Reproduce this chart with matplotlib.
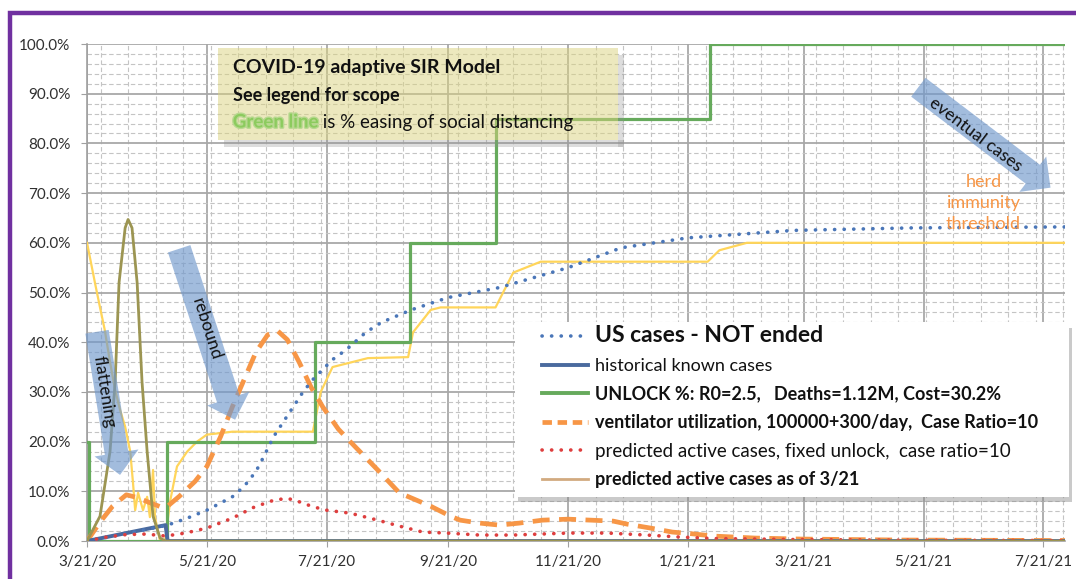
import datetime as dt
import matplotlib
matplotlib.use('Agg')
import matplotlib.pyplot as plt
import matplotlib.dates as mdates
import matplotlib.patches as mpatches
import matplotlib.patheffects as pe
from matplotlib.lines import Line2D
from matplotlib.ticker import FixedLocator, FuncFormatter, MultipleLocator
import numpy as np

plt.rcParams['font.family'] = ['Lato', 'DejaVu Sans']

START = dt.date(2020, 3, 21)

# --- series (days since 3/21/20, percent) ---
us_days = [0, 20, 41, 51, 61, 74, 80, 86, 90, 95, 100, 105, 110, 115, 120, 125, 132,
           142, 150, 165, 184, 210, 245, 272, 306, 360, 420, 498]
us_pct = [0, 1.5, 3.2, 4.6, 6.2, 8.9, 11, 14, 17, 21, 24, 27, 30, 32.5, 34.5, 36.5, 38.5,
          42, 44, 46.5, 49, 51, 55, 59, 61, 62.5, 63, 63.2]

hist_days = [0, 40, 41, 498]
hist_pct = [0, 3.2, 0, 0]

unlock_days = [0, 1, 40.7, 116, 164.5, 208, 317, 498]
unlock_pct = [20, 0, 20, 40, 60, 85, 100, 100]

vent_days = [0, 7, 13, 20, 26, 32, 38, 41, 47, 55, 61, 68, 74, 80, 86, 92, 97, 102, 108,
             114, 120, 128, 134, 148, 159, 175, 185, 190, 200, 210, 220, 232, 245, 268,
             275, 287, 298, 307, 319, 340, 363, 414, 498]
vent_pct = [0, 4, 7, 9.3, 8.7, 7.7, 6.8, 7, 9, 12, 15, 21, 27, 32.5, 38, 41.5, 42.3, 40.5, 36,
            31, 27, 22.5, 20, 14.3, 9.7, 7, 5, 4.2, 3.6, 3.2, 3.6, 4.2, 4.4, 4.0,
            3.4, 2.6, 1.8, 1.5, 1.0, 0.6, 0.4, 0.2, 0.1]

red_days = [0, 10, 20, 30, 40, 50, 61, 74, 85, 95, 102, 108, 115, 122, 134, 148, 159, 171,
            183, 200, 217, 245, 265, 285, 302, 319, 360, 420, 498]
red_pct = [0, 0.8, 1.3, 1.4, 1.0, 1.6, 2.6, 4.6, 6.8, 8.2, 8.6, 7.9, 6.9, 6.2, 5.6, 4.2, 3.0,
           1.8, 1.6, 1.2, 1.2, 1.6, 1.6, 1.2, 0.8, 0.5, 0.3, 0.15, 0.1]

spike_days = [0, 6.6, 11.7, 14.3, 16.3, 19.4, 20.9, 22.9, 25.5, 28, 30.6, 33.6, 37.2, 40, 498]
spike_pct = [0, 5, 18, 32, 52, 63, 64.7, 63, 52, 32, 18, 5, 0.6, 0, 0]

yellow_days = [0, 4, 6.6, 9, 11.7, 14.3, 16.8, 19.4, 22, 23.4, 24.5, 26, 28.5, 30.6, 32,
               33.6, 34.6, 37.2, 39.7, 42.3, 45.8, 51, 56, 61, 74, 115, 119, 125, 143,
               163.5, 166, 175, 180, 208, 217, 231, 316, 322, 336, 498]
yellow_pct = [60, 52, 47, 42.5, 36, 30.4, 26.4, 23, 18, 11.7, 6.2, 9.7, 6.2, 8.9, 4.8,
              14.3, 4.8, 0, 0, 8, 15, 18, 20, 21.4, 22, 22, 30, 35, 36.8,
              37, 42, 46.5, 47, 47, 54, 56.2, 56.2, 58.5, 60, 60]

tick_dates = [dt.date(2020, 3, 21), dt.date(2020, 5, 21), dt.date(2020, 7, 21),
              dt.date(2020, 9, 21), dt.date(2020, 11, 21), dt.date(2021, 1, 21),
              dt.date(2021, 3, 21), dt.date(2021, 5, 21), dt.date(2021, 7, 21)]

legend_labels = ['US cases - NOT ended',
                 'historical known cases',
                 'UNLOCK %: R0=2.5,   Deaths=1.12M, Cost=30.2%',
                 'ventilator utilization, 100000+300/day,  Case Ratio=10',
                 'predicted active cases, fixed unlock,  case ratio=10',
                 'predicted active cases as of 3/21']

C_BLUE_DOT = '#4A76B8'
C_HIST = '#4A6A9E'
C_GREEN = '#66AA5C'
C_ORANGE = '#F79646'
C_RED = '#DE3E3E'
C_TAN = '#D2AA80'
C_OLIVE = '#9C9552'
C_YELLOW = '#FFD55A'
C_ARROW = '#7098CC'


def to_x(days):
    return mdates.date2num(START) + np.asarray(days, dtype=float)


fig = plt.figure(figsize=(10.76, 5.79), dpi=100)
ax = fig.add_axes([0.0809, 0.0656, 0.9089, 0.8584])

ax.plot(to_x(yellow_days), yellow_pct, color=C_YELLOW, lw=1.6, zorder=3)
ax.step(to_x(unlock_days), unlock_pct, where='post', color=C_GREEN, lw=2.3, zorder=3)
ax.plot(to_x(vent_days), vent_pct, color=C_ORANGE, lw=3.4, ls=(0, (3.6, 2.0)), zorder=4)
ax.plot(to_x(hist_days), hist_pct, color=C_HIST, lw=2.8, zorder=4)
ax.plot(to_x(us_days), us_pct, color=C_BLUE_DOT, lw=2.6, ls=(0, (0.05, 2.6)),
        dash_capstyle='round', zorder=4)
ax.plot(to_x(red_days), red_pct, color=C_RED, lw=2.6, ls=(0, (0.05, 2.6)),
        dash_capstyle='round', zorder=4)
ax.plot(to_x(spike_days), spike_pct, color=C_OLIVE, lw=2.0, zorder=4)

# axes, grid
ax.set_xlim(to_x(0), to_x(498))
ax.set_ylim(0, 100)
ax.xaxis.set_major_locator(FixedLocator(mdates.date2num(tick_dates)))
ax.xaxis.set_major_formatter(FuncFormatter(
    lambda v, p: '{d.month}/{d.day}/{y}'.format(d=mdates.num2date(v), y=mdates.num2date(v).year % 100)))
ax.xaxis.set_minor_locator(FixedLocator(to_x(np.arange(7, 498, 14))))
ax.yaxis.set_major_locator(MultipleLocator(10))
ax.yaxis.set_minor_locator(MultipleLocator(2))
ax.yaxis.set_major_formatter(FuncFormatter(lambda v, p: '{:.1f}%'.format(v)))

ax.set_axisbelow(True)
ax.grid(which='major', color='#A8A8A8', lw=1.3)
ax.grid(which='minor', color='#C4C4C4', lw=0.8, ls=(0, (4, 2.5)))
for s in ['top', 'right']:
    ax.spines[s].set_visible(False)
for s in ['left', 'bottom']:
    ax.spines[s].set_color('#A0A0A0')
    ax.spines[s].set_linewidth(1.2)
ax.tick_params(which='major', length=4, color='#A0A0A0', labelsize=11, labelcolor='#303030')
ax.tick_params(axis='y', which='major', pad=8)
ax.tick_params(axis='x', which='major', pad=6)
ax.tick_params(which='minor', length=0)

# title box (soft shadow strips along right and bottom, translucent khaki fill)
bx, by, bw, bh = 0.134, 0.807, 0.409, 0.185
ax.add_patch(mpatches.Rectangle((bx + 0.006, by - 0.014), bw, 0.014, transform=ax.transAxes,
                                fc='#909090', alpha=0.3, ec='none', zorder=5))
ax.add_patch(mpatches.Rectangle((bx + bw, by - 0.014), 0.006, bh, transform=ax.transAxes,
                                fc='#909090', alpha=0.3, ec='none', zorder=5))
ax.add_patch(mpatches.Rectangle((bx, by), bw, bh, transform=ax.transAxes,
                                fc='#DAD37E', alpha=0.5, ec='none', zorder=5))
ax.text(0.149, 0.952, 'COVID-19 adaptive SIR Model', transform=ax.transAxes,
        fontsize=14, fontweight='bold', va='center', color='#111111', zorder=6)
ax.text(0.149, 0.897, 'See legend for scope', transform=ax.transAxes,
        fontsize=13, fontweight='bold', va='center', color='#111111', zorder=6)
g = ax.text(0.149, 0.843, 'Green line', transform=ax.transAxes, fontsize=13.5,
            fontweight='bold', va='center', color='#8CCB5E', zorder=6,
            path_effects=[pe.withStroke(linewidth=2, foreground='#B8D890')])
ax.annotate(' is % easing of social distancing', xy=(1, 0.5), xycoords=g,
            va='center', fontsize=13.5, color='#111111', zorder=6)

# blue arrows with labels
def blue_arrow(start, tip):
    ax.annotate('', xy=(to_x(tip[0]), tip[1]), xytext=(to_x(start[0]), start[1]),
                arrowprops=dict(arrowstyle='simple,head_length=1.6,head_width=3.2,tail_width=1.7',
                                mutation_scale=10, fc=C_ARROW, ec='none', alpha=0.65,
                                shrinkA=0, shrinkB=0), zorder=6)

blue_arrow((5.1, 42.1), (16.8, 13.3))
blue_arrow((46.9, 58.8), (75.4, 24.4))
blue_arrow((423.3, 91.3), (490.6, 71.1))
ax.text(to_x(8.7), 30.0, 'flattening', rotation=-81, fontsize=12.5, ha='center', va='center',
        color='#111111', zorder=7, rotation_mode='anchor')
ax.text(to_x(60.6), 42.7, 'rebound', rotation=-72, fontsize=12.5, ha='center', va='center',
        color='#111111', zorder=7, rotation_mode='anchor')
ax.text(to_x(452.4), 81.8, 'eventual cases', rotation=-37, fontsize=12.5, ha='center',
        va='center', color='#111111', zorder=7, rotation_mode='anchor')
ax.text(to_x(456.5), 68.0, 'herd\nimmunity\nthreshold', fontsize=13, ha='center', va='center',
        color=C_ORANGE, linespacing=1.4, zorder=7)

# legend: own white frame with a thin shadow, frameless legend on top
lx0, ly0, lx1, ly1 = 0.4376, 0.0895, 1.004, 0.4406
ax.add_patch(mpatches.Rectangle((lx0 + 0.003, ly0 - 0.012), lx1 - lx0, ly1 - ly0,
                                transform=ax.transAxes, fc='#8A8A8A', alpha=0.45, ec='none',
                                zorder=8, clip_on=False))
ax.add_patch(mpatches.Rectangle((lx0, ly0), lx1 - lx0, ly1 - ly0, transform=ax.transAxes,
                                fc='white', ec='none', zorder=8, clip_on=False))
handles = [
    Line2D([], [], color=C_BLUE_DOT, lw=2.6, ls=(0, (0.05, 2.6)), dash_capstyle='round'),
    Line2D([], [], color=C_HIST, lw=2.8),
    Line2D([], [], color=C_GREEN, lw=2.8),
    Line2D([], [], color=C_ORANGE, lw=3.4, ls=(0, (2.0, 1.2))),
    Line2D([], [], color=C_RED, lw=2.6, ls=(0, (0.05, 2.6)), dash_capstyle='round'),
    Line2D([], [], color=C_TAN, lw=2.0),
]
leg = ax.legend(handles, legend_labels, loc='upper left', bbox_to_anchor=(0.465, 0.434),
                borderaxespad=0, borderpad=0, fontsize=13, handlelength=2.55,
                handletextpad=0.4, labelspacing=0.64, frameon=False)
leg.set_zorder(9)
sizes = [16.5, 13, 13, 13, 13.5, 13]
weights = ['bold', 'normal', 'bold', 'bold', 'normal', 'bold']
for t, s, w in zip(leg.get_texts(), sizes, weights):
    t.set_fontsize(s)
    t.set_fontweight(w)
    t.set_color('#111111')

# purple frame
fig.patches.append(mpatches.Rectangle((0.0095, -0.2), 1.2, 0.9775 + 0.2, transform=fig.transFigure,
                                      fill=False, ec='#7030A0', lw=3.2))

fig.savefig('out.png', dpi=100)
